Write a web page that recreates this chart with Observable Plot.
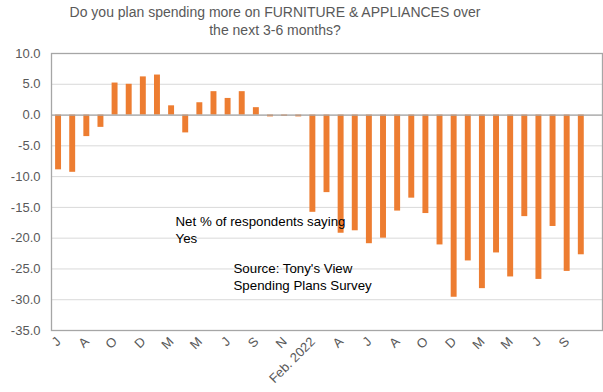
<!DOCTYPE html>
<html>
<head>
<meta charset="utf-8">
<script src="https://cdn.jsdelivr.net/npm/d3@7"></script>
<script src="https://cdn.jsdelivr.net/npm/@observablehq/plot@0.6"></script>
<style>
  html, body { margin: 0; padding: 0; background: #fff; }
  body { width: 603px; height: 392px; overflow: hidden; font-family: "Liberation Sans", Arial, sans-serif; }
  #title { width: 550px; height: 44px; text-align: center; font-size: 14px; line-height: 18px; color: #595959; padding-top: 3px; box-sizing: border-box; }
  #chart svg { display: block; }
</style>
</head>
<body>
<div id="title">Do you plan spending more on FURNITURE &amp; APPLIANCES over<br>the next 3-6 months?</div>
<div id="chart"></div>
<script>
// Tick labels for each survey period (blank = unlabelled period)
const tickLabels = ["J","","A","","O","","D","","M","","M","","J","","S","","N","",
  "Feb. 2022","","A","","J","","A","","O","","D","","M","","M","","J","","S","",""];
// Net % of respondents saying Yes
const netYes = [-8.9, -9.3, -3.5, -2.0, 5.2, 5.0, 6.2, 6.5, 1.5, -2.9, 2.0, 3.8, 2.7, 3.8, 1.2, -0.3, -0.2, -0.3,
  -15.8, -12.6, -19.2, -18.8, -20.9, -20.0, -15.6, -13.5, -16.0, -21.1, -29.6, -23.7, -28.2, -22.4, -26.3, -16.5,
  -26.7, -18.1, -25.4, -22.7, null];
const yTicks = [10, 5, 0, -5, -10, -15, -20, -25, -30, -35];
const noteLabel = {text: "Net % of respondents saying\nYes", y: -18.5};
const noteSource = {text: "Source: Tony's View\nSpending Plans Survey", y: -26.2};

const data = netYes.map((v, i) => ({i, v}));
const idx = d3.range(tickLabels.length);
const noteStyle = {y: "y", text: "text", frameAnchor: "left", textAnchor: "start", lineAnchor: "middle", lineHeight: 1.25, fontSize: 13.3, fill: "#000"};

const chart = Plot.plot({
  width: 603,
  height: 348,
  marginTop: 9,
  marginBottom: 62,
  marginLeft: 51,
  marginRight: 1,
  style: {fontFamily: "'Liberation Sans', Arial, sans-serif", fontSize: "13px", color: "#595959", background: "#fff"},
  x: {type: "band", domain: idx, paddingInner: 0.58, paddingOuter: 0.29, round: false, label: null},
  y: {domain: [-35, 10], label: null},
  marks: [
    Plot.gridY(yTicks, {stroke: "#d9d9d9", strokeOpacity: 1}),
    Plot.barY(data.filter(d => d.v != null), {x: "i", y: "v", fill: "#ED7D31"}),
    Plot.ruleY([0], {stroke: "#a6a6a6", strokeWidth: 1.3}),
    Plot.frame({stroke: "#a6a6a6", strokeWidth: 1.3}),
    Plot.axisY(yTicks, {tickSize: 0, tickPadding: 11, tickFormat: d => d.toFixed(1), fontSize: 13, fill: "#595959", label: null}),
    Plot.axisX(idx, {tickSize: 0, tickPadding: 9, tickRotate: -45, tickFormat: i => tickLabels[i], fontSize: 13, fill: "#595959", label: null}),
    Plot.text([noteLabel], {...noteStyle, dx: 124}),
    Plot.text([noteSource], {...noteStyle, dx: 182})
  ]
});
document.getElementById("chart").appendChild(chart);
</script>
</body>
</html>
